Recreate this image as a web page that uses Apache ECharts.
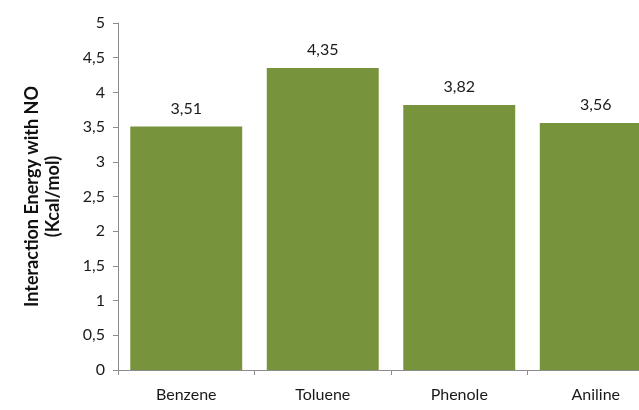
<!DOCTYPE html>
<html>
<head>
<meta charset="utf-8">
<script src="https://cdn.jsdelivr.net/npm/echarts@6/dist/echarts.min.js"></script>
<style>
  html, body { margin: 0; padding: 0; background: #ffffff; }
  #chart { width: 639px; height: 410px; }
</style>
</head>
<body>
<div id="chart"></div>
<script>
// Molecules and their interaction energy with NO (kcal/mol)
const categories = ['Benzene', 'Toluene', 'Phenole', 'Aniline'];
const energies = [3.51, 4.35, 3.82, 3.56];
const yTicks = [0, 0.5, 1, 1.5, 2, 2.5, 3, 3.5, 4, 4.5, 5];

const comma = v => String(v).replace('.', ',');
const font = 'Lato, "Open Sans", sans-serif';

const chart = echarts.init(document.getElementById('chart'), null, { renderer: 'canvas' });
chart.setOption({
  animation: false,
  backgroundColor: '#ffffff',
  // plot area runs past the right edge of the canvas
  grid: { left: 118, top: 23, bottom: 40, width: 546, outerBoundsMode: 'none', containLabel: false },
  xAxis: {
    type: 'category',
    data: categories,
    axisLine: { lineStyle: { color: '#8c8c8c', width: 1 } },
    axisTick: { show: true, length: 5, lineStyle: { color: '#8c8c8c' } },
    axisLabel: { color: '#1a1a1a', fontSize: 16, fontFamily: font, margin: 17 }
  },
  yAxis: {
    type: 'value',
    min: yTicks[0],
    max: yTicks[yTicks.length - 1],
    interval: yTicks[1] - yTicks[0],
    name: 'Interaction Energy with NO\n(Kcal/mol)',
    nameLocation: 'middle',
    nameGap: 54,
    nameTextStyle: { color: '#111', fontSize: 18, fontWeight: 'bold', fontFamily: font, lineHeight: 21 },
    axisLine: { show: true, lineStyle: { color: '#8c8c8c', width: 1 } },
    axisTick: { show: true, length: 5, lineStyle: { color: '#8c8c8c' } },
    splitLine: { show: false },
    axisLabel: { color: '#1a1a1a', fontSize: 16, fontFamily: font, margin: 13, formatter: v => comma(v) }
  },
  series: [{
    type: 'bar',
    data: energies,
    barCategoryGap: '18%',
    itemStyle: { color: '#77933c' },
    label: {
      show: true,
      position: 'top',
      distance: 10,
      color: '#1a1a1a',
      fontSize: 16,
      fontFamily: font,
      formatter: p => comma(p.value)
    }
  }]
});
</script>
</body>
</html>
